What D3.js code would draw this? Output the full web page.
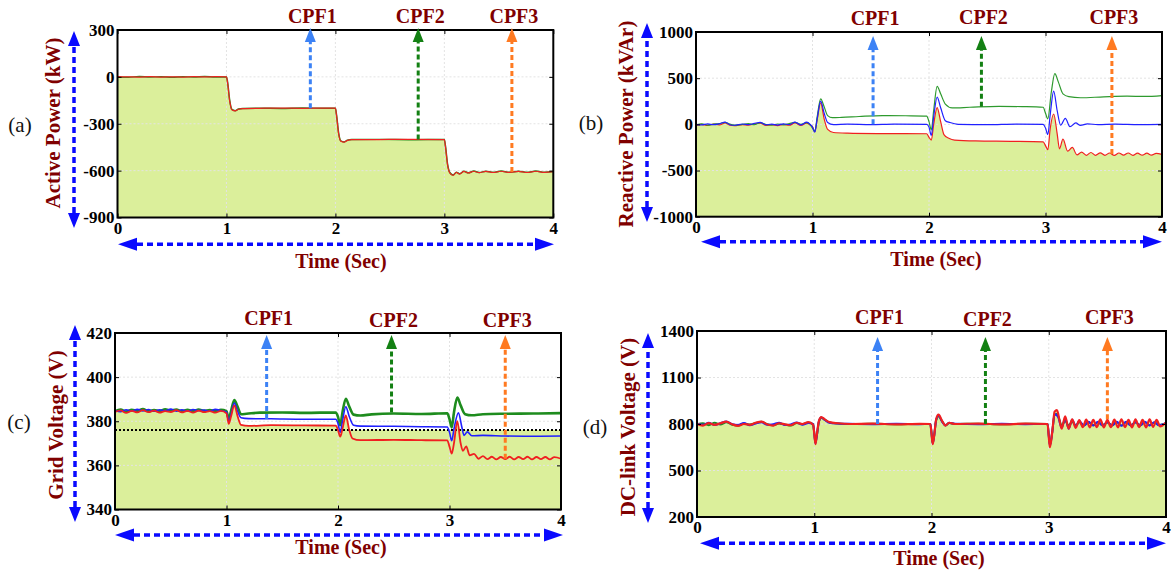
<!DOCTYPE html>
<html>
<head>
<meta charset="utf-8">
<script src="https://cdn.jsdelivr.net/npm/d3@7"></script>
<style>
  html, body { margin: 0; padding: 0; background: #fff; }
  svg { display: block; }
</style>
</head>
<body>
<div id="chart"></div>
<script>
// ---- data -------------------------------------------------------------
const timeTicks = [0, 1, 2, 3, 4];
const cpfNames = ["CPF1", "CPF2", "CPF3"];

// (a) active power, kW
const activeTicks = [300, 0, -300, -600, -900];
const activeGreen = [[0,0],[0.1,-2],[0.2,2],[0.3,-1],[0.4,1],[0.5,-2],[0.6,1],[0.7,-1],[0.8,2],[0.9,-1],[1.0,0],[1.01,-30],[1.03,-150],[1.05,-208],[1.08,-216],[1.11,-206],[1.15,-202],[1.3,-200],[1.5,-202],[1.7,-199],[1.9,-201],[2.0,-200],[2.01,-240],[2.03,-360],[2.05,-410],[2.08,-416],[2.11,-405],[2.15,-401],[2.4,-400],[2.7,-402],[3.0,-400],[3.01,-440],[3.03,-560],[3.05,-612],[3.08,-628],[3.11,-610],[3.14,-620],[3.18,-604],[3.22,-614],[3.27,-603],[3.32,-612],[3.38,-604],[3.45,-611],[3.52,-603],[3.6,-610],[3.68,-604],[3.76,-611],[3.84,-603],[3.92,-610],[4.0,-605]];
const activeRed = [[0,1],[0.1,0],[0.2,-1],[0.3,1],[0.4,-1],[0.5,0],[0.6,-1],[0.7,1],[0.8,0],[0.9,1],[1.0,0],[1.01,-35],[1.03,-155],[1.05,-210],[1.08,-217],[1.11,-207],[1.15,-203],[1.3,-201],[1.5,-200],[1.7,-201],[1.9,-200],[2.0,-200],[2.01,-245],[2.03,-365],[2.05,-412],[2.08,-417],[2.11,-406],[2.15,-402],[2.4,-401],[2.7,-400],[3.0,-401],[3.01,-445],[3.03,-565],[3.05,-614],[3.08,-630],[3.11,-611],[3.14,-622],[3.18,-605],[3.22,-615],[3.27,-604],[3.32,-613],[3.38,-605],[3.45,-612],[3.52,-604],[3.6,-611],[3.68,-605],[3.76,-612],[3.84,-604],[3.92,-611],[4.0,-606]];
const activeCpfT = [1.77, 2.76, 3.62];
const activeCpfV = [-201, -401, -608];

// (b) reactive power, kVAr
const reactiveTicks = [1000, 500, 0, -500, -1000];
const reactiveGreen = [[0,-5],[0.05,5],[0.1,-8],[0.15,2],[0.2,8],[0.25,22],[0.29,2],[0.33,-8],[0.4,0],[0.45,8],[0.5,-4],[0.55,18],[0.6,-2],[0.65,-8],[0.7,4],[0.75,-6],[0.8,8],[0.85,22],[0.9,0],[0.95,18],[0.98,-5],[1.0,-40],[1.02,-75],[1.04,80],[1.07,275],[1.1,190],[1.13,95],[1.17,72],[1.25,75],[1.4,85],[1.6,95],[1.8,93],[1.98,90],[2.0,30],[2.02,-60],[2.04,150],[2.07,412],[2.1,330],[2.14,220],[2.2,178],[2.35,185],[2.6,195],[2.8,192],[2.98,185],[3.0,120],[3.02,60],[3.05,350],[3.08,550],[3.11,460],[3.15,330],[3.2,300],[3.3,288],[3.5,298],[3.7,305],[3.85,302],[4.0,312]];
const reactiveBlue = [[0,0],[0.05,-6],[0.1,5],[0.15,-4],[0.2,6],[0.25,25],[0.29,-4],[0.33,-10],[0.4,4],[0.45,-4],[0.5,10],[0.55,22],[0.6,-6],[0.65,2],[0.7,-8],[0.75,6],[0.8,-4],[0.85,25],[0.9,-6],[0.95,24],[0.98,0],[1.0,-30],[1.02,-85],[1.04,60],[1.07,252],[1.1,120],[1.13,20],[1.18,-4],[1.3,2],[1.5,-2],[1.7,3],[1.98,0],[2.0,-30],[2.02,-120],[2.04,80],[2.07,295],[2.1,180],[2.14,40],[2.18,20],[2.25,0],[2.5,-4],[2.75,3],[2.98,0],[3.0,-40],[3.02,-110],[3.04,100],[3.07,360],[3.1,150],[3.13,-10],[3.17,65],[3.21,-25],[3.26,15],[3.3,-12],[3.36,5],[3.45,-3],[3.6,2],[3.8,-3],[4.0,0]];
const reactiveRed = [[0,-10],[0.05,0],[0.1,-12],[0.15,4],[0.2,-6],[0.25,15],[0.29,-10],[0.33,-14],[0.4,-2],[0.45,-10],[0.5,6],[0.55,12],[0.6,-12],[0.65,-4],[0.7,-14],[0.75,0],[0.8,-10],[0.85,15],[0.9,-12],[0.95,14],[0.98,-8],[1.0,-25],[1.02,-80],[1.04,50],[1.07,232],[1.1,60],[1.13,-55],[1.18,-88],[1.3,-95],[1.6,-100],[1.98,-102],[2.0,-140],[2.02,-170],[2.04,0],[2.07,182],[2.1,30],[2.13,-115],[2.17,-150],[2.22,-170],[2.4,-180],[2.7,-184],[2.98,-190],[3.0,-230],[3.02,-275],[3.04,-50],[3.07,112],[3.1,-100],[3.12,-265],[3.15,-160],[3.19,-290],[3.23,-250],[3.27,-330],[3.31,-300],[3.35,-335],[3.39,-305],[3.43,-335],[3.47,-308],[3.51,-335],[3.55,-310],[3.59,-336],[3.63,-310],[3.67,-334],[3.71,-310],[3.75,-335],[3.79,-312],[3.83,-334],[3.87,-312],[3.91,-334],[3.95,-315],[4.0,-325]];
const reactiveCpfT = [1.52, 2.45, 3.57];
const reactiveCpfV = [0, 190, -320];

// (c) grid voltage, V
const gridTicks = [420, 400, 380, 360, 340];
const gridRef = 376;
const gridGreen = [[0,384.6],[0.05,385.3],[0.1,384.4],[0.15,385.2],[0.2,384.7],[0.25,385.5],[0.3,384.5],[0.35,385.1],[0.4,384.6],[0.45,385.4],[0.5,384.8],[0.55,385.3],[0.6,384.6],[0.65,385.2],[0.7,384.5],[0.75,385.3],[0.8,384.7],[0.85,385.1],[0.9,384.6],[0.95,385.2],[1.0,384.6],[1.02,381],[1.04,384.5],[1.07,389.6],[1.1,386.5],[1.13,383.2],[1.18,383.4],[1.3,383.9],[1.5,384],[1.7,383.8],[1.98,384],[2.0,382],[2.02,378.2],[2.04,384],[2.07,390.2],[2.1,386.8],[2.14,383],[2.2,382.6],[2.3,383.1],[2.5,383.5],[2.75,383.3],[2.98,383.6],[3.0,381],[3.02,377.2],[3.04,384],[3.07,390.7],[3.1,387.2],[3.14,383.2],[3.2,382.7],[3.3,383.2],[3.5,383.4],[3.75,383.5],[4.0,383.7]];
const gridBlue = [[0,384.9],[0.05,384.3],[0.1,385.2],[0.15,384.6],[0.2,385.4],[0.25,384.7],[0.3,385.3],[0.35,384.5],[0.4,385.2],[0.45,384.7],[0.5,385.5],[0.55,384.6],[0.6,385.2],[0.65,384.5],[0.7,385.3],[0.75,384.8],[0.8,385.1],[0.85,384.5],[0.9,385.4],[0.95,384.8],[1.0,384.2],[1.02,380],[1.04,383],[1.07,388.2],[1.1,384.5],[1.13,381.6],[1.2,381.2],[1.4,381.1],[1.7,380.9],[1.98,380.9],[2.0,379],[2.02,375],[2.04,380],[2.07,386.6],[2.1,382.3],[2.14,378.2],[2.2,377.8],[2.5,377.7],[2.75,377.5],[2.98,377.4],[3.0,375],[3.02,371.2],[3.04,376.5],[3.08,383.8],[3.11,377.5],[3.13,373.6],[3.16,375.2],[3.2,373.4],[3.3,373.6],[3.5,373.3],[3.75,373.2],[4.0,373.3]];
const gridRed = [[0,384.2],[0.05,384.9],[0.1,383.8],[0.15,384.7],[0.2,384.0],[0.25,385.0],[0.3,384.1],[0.35,384.8],[0.4,383.9],[0.45,384.6],[0.5,384.2],[0.55,385.0],[0.6,384.0],[0.65,384.7],[0.7,383.9],[0.75,384.8],[0.8,384.1],[0.85,384.6],[0.9,383.9],[0.95,384.7],[1.0,383.6],[1.02,378.8],[1.04,382],[1.07,387.2],[1.1,382.2],[1.13,378.4],[1.2,377.9],[1.4,378.2],[1.7,378.1],[1.98,378],[2.0,376],[2.02,373],[2.04,376.5],[2.07,382.6],[2.1,376.2],[2.13,372.2],[2.2,371.4],[2.5,371.6],[2.75,371.4],[2.98,371.3],[3.0,368.5],[3.02,365.3],[3.04,370],[3.07,380],[3.1,370],[3.12,366.6],[3.15,368.6],[3.18,364.6],[3.22,365.2],[3.26,363],[3.3,364.2],[3.34,362.8],[3.38,363.9],[3.42,362.7],[3.46,363.8],[3.5,362.8],[3.54,363.9],[3.58,362.7],[3.62,363.8],[3.66,362.8],[3.7,363.9],[3.74,362.7],[3.78,363.8],[3.82,362.8],[3.86,363.8],[3.9,362.7],[3.94,363.7],[4.0,363]];
const gridCpfT = [1.36, 2.48, 3.50];
const gridCpfV = [381, 384, 363];

// (d) dc-link voltage, V
const dcTicks = [1400, 1100, 800, 500, 200];
const dcGreen = [[0,798],[0.05,805],[0.1,792],[0.15,808],[0.2,797],[0.25,812],[0.3,795],[0.35,790],[0.4,803],[0.45,796],[0.5,806],[0.55,814],[0.6,798],[0.65,792],[0.7,804],[0.75,797],[0.8,790],[0.85,806],[0.9,799],[0.95,810],[0.99,798],[1.0,745],[1.01,680],[1.02,715],[1.04,815],[1.06,840],[1.09,828],[1.13,810],[1.2,804],[1.3,800],[1.5,801],[1.7,799],[1.9,800],[1.99,800],[2.0,745],[2.01,680],[2.02,712],[2.04,825],[2.06,850],[2.09,818],[2.12,792],[2.15,806],[2.2,800],[2.4,802],[2.6,798],[2.8,801],[2.99,800],[3.0,730],[3.01,665],[3.03,750],[3.05,860],[3.07,865],[3.09,830],[3.11,790],[3.14,820],[3.17,790],[3.2,815],[3.23,790],[3.26,812],[3.3,792],[3.34,812],[3.38,792],[3.42,812],[3.46,792],[3.5,810],[3.54,792],[3.58,812],[3.62,790],[3.66,812],[3.7,792],[3.74,810],[3.78,792],[3.82,812],[3.86,792],[3.9,810],[3.94,794],[4.0,805]];
const dcBlue = [[0,802],[0.05,795],[0.1,808],[0.15,793],[0.2,805],[0.25,816],[0.3,799],[0.35,794],[0.4,806],[0.45,792],[0.5,803],[0.55,811],[0.6,795],[0.65,799],[0.7,808],[0.75,793],[0.8,797],[0.85,810],[0.9,795],[0.95,806],[0.99,800],[1.0,740],[1.01,675],[1.02,712],[1.04,818],[1.06,842],[1.09,826],[1.13,808],[1.2,803],[1.3,801],[1.5,799],[1.7,801],[1.9,799],[1.99,800],[2.0,742],[2.01,675],[2.02,708],[2.04,828],[2.06,855],[2.09,815],[2.12,790],[2.15,808],[2.2,801],[2.4,799],[2.6,802],[2.8,799],[2.99,800],[3.0,725],[3.01,660],[3.03,748],[3.05,865],[3.08,845],[3.11,775],[3.14,835],[3.17,770],[3.2,828],[3.23,785],[3.26,820],[3.3,788],[3.34,815],[3.38,790],[3.42,814],[3.46,790],[3.5,812],[3.54,790],[3.58,814],[3.62,788],[3.66,814],[3.7,790],[3.74,812],[3.78,790],[3.82,814],[3.86,790],[3.9,812],[3.94,792],[4.0,806]];
const dcRed = [[0,800],[0.05,790],[0.1,806],[0.15,795],[0.2,805],[0.25,815],[0.3,798],[0.35,788],[0.4,800],[0.45,795],[0.5,808],[0.55,815],[0.6,797],[0.65,790],[0.7,805],[0.75,798],[0.8,792],[0.85,808],[0.9,800],[0.95,812],[0.99,795],[1.0,740],[1.01,670],[1.02,720],[1.04,820],[1.06,845],[1.09,830],[1.13,812],[1.2,805],[1.3,800],[1.5,802],[1.7,798],[1.9,801],[1.99,800],[2.0,740],[2.01,670],[2.02,710],[2.04,830],[2.06,860],[2.09,820],[2.12,790],[2.15,808],[2.2,800],[2.4,803],[2.6,797],[2.8,802],[2.99,800],[3.0,720],[3.01,650],[3.03,750],[3.05,880],[3.07,890],[3.09,830],[3.11,770],[3.14,850],[3.17,770],[3.2,830],[3.23,775],[3.26,825],[3.29,780],[3.32,828],[3.35,778],[3.38,826],[3.41,780],[3.44,830],[3.47,778],[3.5,826],[3.53,780],[3.56,828],[3.59,778],[3.62,830],[3.65,780],[3.68,826],[3.71,778],[3.74,830],[3.77,780],[3.8,826],[3.83,778],[3.86,830],[3.89,782],[3.92,826],[3.95,785],[4.0,810]];
const dcCpfT = [1.54, 2.46, 3.50];
const dcCpfV = [800, 800, 830];

// ---- drawing -----------------------------------------------------------
const FONT = "'Liberation Serif', 'Times New Roman', serif";
const DARKRED = "#800000";
const FILL = "#dbef9b";
const RED = "#f02020", GREEN = "#1e8c1e", BLUE = "#2020ff";
const CPF_COLORS = ["#3c82f5", "#138013", "#ff7a21"];

const W = 1171, H = 579;
const svg = d3.select("#chart").append("svg")
    .attr("width", W).attr("height", H)
    .style("font-family", FONT);

function drawArrow(g, p0, p1, color, o) {
    var dx = p1[0] - p0[0], dy = p1[1] - p0[1];
    var L = Math.hypot(dx, dy), ux = dx / L, uy = dy / L;
    var px = -uy, py = ux;
    var s = o.both ? [p0[0] + ux * o.head, p0[1] + uy * o.head] : p0;
    var e = [p1[0] - ux * o.head, p1[1] - uy * o.head];
    g.append("line")
        .attr("x1", s[0]).attr("y1", s[1])
        .attr("x2", e[0]).attr("y2", e[1])
        .attr("stroke", color)
        .attr("stroke-width", o.width)
        .attr("stroke-dasharray", o.dash);
    var heads = [[p1, e]];
    if (o.both) heads.push([p0, s]);
    heads.forEach(function(h) {
        var tip = h[0], b = h[1];
        g.append("path")
            .attr("d", "M" + tip[0] + "," + tip[1] +
                "L" + (b[0] + px * o.hw) + "," + (b[1] + py * o.hw) +
                "L" + (b[0] - px * o.hw) + "," + (b[1] - py * o.hw) + "Z")
            .attr("fill", color);
    });
}

function drawPanel(p) {
    var g = svg.append("g");
    var x = d3.scaleLinear().domain([0, 4]).range([p.left, p.right]);
    var y = d3.scaleLinear().domain(d3.extent(p.yTicks)).range([p.bottom, p.top]);

    // green area under the lowest trace
    var area = d3.area()
        .curve(d3.curveMonotoneX)
        .x(function(d) { return x(d[0]); })
        .y0(p.bottom)
        .y1(function(d) { return y(p.floor !== undefined ? Math.max(d[1], p.floor) : d[1]); });
    g.append("path").datum(p.fillSeries)
        .attr("d", area).attr("fill", FILL);

    // grid
    var grid = g.append("g")
        .attr("stroke", "#e3e3e3").attr("stroke-width", 1)
        .attr("stroke-dasharray", "2,2");
    timeTicks.slice(1, -1).forEach(function(t) {
        grid.append("line").attr("x1", x(t)).attr("x2", x(t))
            .attr("y1", p.top).attr("y2", p.bottom);
    });
    p.yTicks.slice(1, -1).forEach(function(v) {
        grid.append("line").attr("y1", y(v)).attr("y2", y(v))
            .attr("x1", p.left).attr("x2", p.right);
    });

    // reference line
    if (p.ref !== undefined) {
        g.append("line")
            .attr("x1", p.left).attr("x2", p.right)
            .attr("y1", y(p.ref)).attr("y2", y(p.ref))
            .attr("stroke", "#000").attr("stroke-width", 2)
            .attr("stroke-dasharray", "2,2");
    }

    // traces
    var line = d3.line()
        .curve(d3.curveMonotoneX)
        .x(function(d) { return x(d[0]); })
        .y(function(d) { return y(d[1]); });
    p.series.forEach(function(s) {
        g.append("path").datum(s.data)
            .attr("d", line)
            .attr("fill", "none")
            .attr("stroke", s.color)
            .attr("stroke-width", s.width)
            .attr("stroke-linejoin", "round");
    });

    // axes (inward ticks, MATLAB style box)
    var fmt = function(d) { return String(d); };
    var ax = g.append("g").attr("transform", "translate(" + p.left + ",0)")
        .call(d3.axisLeft(y).tickValues(p.yTicks).tickFormat(fmt)
            .tickSizeInner(-4).tickSizeOuter(0).tickPadding(3));
    var bx = g.append("g").attr("transform", "translate(0," + p.bottom + ")")
        .call(d3.axisBottom(x).tickValues(timeTicks).tickFormat(fmt)
            .tickSizeInner(-4).tickSizeOuter(0).tickPadding(4));
    g.append("g").attr("transform", "translate(" + p.right + ",0)")
        .call(d3.axisRight(y).tickValues(p.yTicks).tickFormat("")
            .tickSizeInner(-4).tickSizeOuter(0));
    g.append("g").attr("transform", "translate(0," + p.top + ")")
        .call(d3.axisTop(x).tickValues(timeTicks).tickFormat("")
            .tickSizeInner(-4).tickSizeOuter(0));
    g.selectAll(".domain").remove();
    g.selectAll(".tick line").attr("stroke", "#000");
    [ax, bx].forEach(function(a) {
        a.selectAll("text")
            .attr("font-family", FONT)
            .attr("font-size", "17px")
            .attr("font-weight", "bold")
            .attr("fill", "#000");
    });

    g.append("rect")
        .attr("x", p.left).attr("y", p.top)
        .attr("width", p.right - p.left).attr("height", p.bottom - p.top)
        .attr("fill", "none").attr("stroke", "#000").attr("stroke-width", 2);

    // CPF arrows + labels
    p.cpfT.forEach(function(t, i) {
        drawArrow(g, [x(t), y(p.cpfV[i])], [x(t), p.top + p.cpfTip],
            CPF_COLORS[i], { width: 3, dash: "5,3", head: 14, hw: 5.5 });
        g.append("text")
            .attr("x", x(t) + 2).attr("y", p.cpfY[i])
            .attr("text-anchor", "middle")
            .attr("font-size", "20px").attr("font-weight", "bold")
            .attr("fill", DARKRED)
            .text(cpfNames[i]);
    });

    // axis arrows
    drawArrow(g, [p.vArrowX, p.vArrow[1]], [p.vArrowX, p.vArrow[0]], "#0a0aff",
        { width: 3.5, dash: "6,4", head: 15, hw: 6, both: true });
    drawArrow(g, [p.hArrow[0], p.hArrowY], [p.hArrow[1], p.hArrowY], "#0a0aff",
        { width: 3.5, dash: "6,4", head: 19, hw: 6.5, both: true });

    // titles
    g.append("text")
        .attr("x", p.timeX).attr("y", p.timeY)
        .attr("text-anchor", "middle")
        .attr("font-size", "20px").attr("font-weight", "bold")
        .attr("fill", DARKRED)
        .text("Time (Sec)");
    g.append("text")
        .attr("transform", "translate(" + p.titleX + "," + p.titleY + ") rotate(-90)")
        .attr("text-anchor", "middle")
        .attr("font-size", "21px").attr("font-weight", "bold")
        .attr("fill", DARKRED)
        .text(p.title);
    g.append("text")
        .attr("x", p.tagX).attr("y", p.tagY)
        .attr("text-anchor", "middle")
        .attr("font-size", "21px")
        .attr("fill", "#111")
        .text(p.tag);
}

drawPanel({
    left: 117.5, right: 553.3, top: 30, bottom: 217.5,
    yTicks: activeTicks,
    fillSeries: activeRed,
    series: [
        { data: activeGreen, color: GREEN, width: 1.5 },
        { data: activeRed, color: RED, width: 1.2 }
    ],
    cpfT: activeCpfT, cpfV: activeCpfV, cpfTip: -2, cpfY: [22.5, 22.5, 22.5],
    vArrowX: 74, vArrow: [31, 228],
    hArrowY: 244.3, hArrow: [118, 554],
    timeX: 341, timeY: 268,
    title: "Active Power (kW)", titleX: 60, titleY: 123,
    tag: "(a)", tagX: 20, tagY: 132
});

drawPanel({
    left: 696, right: 1162, top: 32, bottom: 216.7,
    yTicks: reactiveTicks,
    fillSeries: reactiveRed,
    series: [
        { data: reactiveRed, color: RED, width: 1.2 },
        { data: reactiveGreen, color: "#2e9a2e", width: 1.2 },
        { data: reactiveBlue, color: BLUE, width: 1.2 }
    ],
    cpfT: reactiveCpfT, cpfV: reactiveCpfV, cpfTip: 4, cpfY: [25, 23.5, 24],
    vArrowX: 647, vArrow: [23, 222],
    hArrowY: 241.7, hArrow: [701, 1162],
    timeX: 936, timeY: 266,
    title: "Reactive Power (kVAr)", titleX: 633, titleY: 124,
    tag: "(b)", tagX: 591, tagY: 130
});

drawPanel({
    left: 115, right: 561, top: 333, bottom: 509.5,
    yTicks: gridTicks,
    fillSeries: gridRed, floor: gridRef, ref: gridRef,
    series: [
        { data: gridGreen, color: GREEN, width: 2.6 },
        { data: gridBlue, color: BLUE, width: 1.6 },
        { data: gridRed, color: RED, width: 1.8 }
    ],
    cpfT: gridCpfT, cpfV: gridCpfV, cpfTip: 2, cpfY: [325, 327, 327],
    vArrowX: 75, vArrow: [325, 522],
    hArrowY: 535, hArrow: [115, 563],
    timeX: 341, timeY: 554,
    title: "Grid Voltage (V)", titleX: 63, titleY: 425,
    tag: "(c)", tagX: 19, tagY: 429
});

drawPanel({
    left: 697, right: 1166, top: 331, bottom: 517,
    yTicks: dcTicks,
    fillSeries: dcRed,
    series: [
        { data: dcGreen, color: GREEN, width: 2 },
        { data: dcBlue, color: BLUE, width: 2 },
        { data: dcRed, color: RED, width: 2.2 }
    ],
    cpfT: dcCpfT, cpfV: dcCpfV, cpfTip: 6, cpfY: [323.5, 326, 323.5],
    vArrowX: 648, vArrow: [333, 523],
    hArrowY: 543.3, hArrow: [700, 1166],
    timeX: 939, timeY: 565,
    title: "DC-link Voltage (V)", titleX: 635, titleY: 427,
    tag: "(d)", tagX: 595, tagY: 434
});
</script>
</body>
</html>
